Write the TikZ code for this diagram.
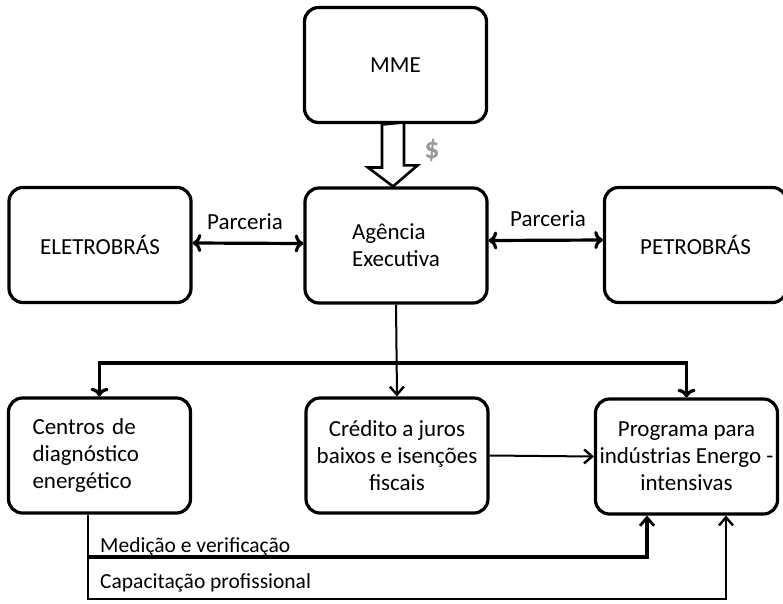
\documentclass[tikz,border=0pt]{standalone}
\usepackage{fontspec}
\setmainfont{Carlito}
\usepackage{tikz}
\usetikzlibrary{arrows.meta, positioning}
\tikzset{
  blk/.style={rectangle, rounded corners=14pt, draw=black, line width=3.2pt,
              minimum width=182pt, minimum height=115pt, inner sep=4pt,
              align=center},
  e/.style={line width=2pt, black,
            -{Straight Barb[length=8pt, width=14pt, line width=2.4pt]}},
  eb/.style={line width=3.2pt, black,
             -{Straight Barb[length=8pt, width=14pt, line width=2.8pt]}},
  hol/.style={line width=2.6pt, black, fill=white, line join=miter},
  lbl/.style={inner sep=0pt},
}
\begin{document}
\begin{tikzpicture}[x=1pt, y=-1pt, font=\fontsize{23}{27}\selectfont]
  \useasboundingbox (0,0) rectangle (783,603);
  \node[blk] (mme) at (395.5,65) {MME};
  \node[blk, align=left] (age) at (396,245.5) {Agência\\Executiva};
  \node[blk] (ele) at (100,245) {ELETROBRÁS};
  \node[blk] (pet) at (695.5,245) {PETROBRÁS};
  \node[blk, align=left, text width=134pt] (cen) at (99.5,455.5)
    {Centros de\\diagnóstico\\energético};
  \node[blk] (cre) at (397,455.5) {Crédito a juros\\baixos e isenções\\fiscais};
  \node[blk] (pro) at (686.5,456.5) {Programa para\\indústrias Energo -\\intensivas};
  % repasse de recursos
  \coordinate (dn) at (393,124.5);
  \coordinate (ht) at (age.north -| dn);
  \draw[hol] (dn) ++(-11,0) -- ++(0,43) -- ++(-14,0) -- (ht)
    -- ++(24.5,-21) -- ++(-13.5,0) -- ++(0,-43) -- cycle;
  \node[font=\bfseries\fontsize{30}{32}\selectfont, text=black!40] (dol) at (432,150) {\$};
  % parcerias
  \draw[eb, <->] ([yshift=2pt]ele.east) -- ([yshift=2pt]age.west);
  \draw[eb, <->] ([yshift=5pt]age.east) -- ([yshift=5pt]pet.west);
  \node[lbl, anchor=base] (pa1) at (245,229) {Parceria};
  \node[lbl, anchor=base] (pa2) at (548,226) {Parceria};
  % programas
  \coordinate (br) at (396,363);
  \draw[e] (age.south) -- (cre.north);
  \draw[eb, <->] (cen.north) |- (br) -| (pro.north);
  \draw[e] (cre.east) -- (pro.west);
  % retorno dos centros
  \coordinate (m0) at (88,557);
  \coordinate (m1) at (647,557);
  \coordinate (k0) at (88,599);
  \coordinate (k1) at (726,599);
  \draw[e] (k0 |- cen.south) -- (k0) -- (k1) -- (k1 |- pro.south);
  \draw[eb] (m0) -- (m1) -- (m1 |- pro.south);
  \node[lbl, anchor=base west, font=\fontsize{21.5}{24}\selectfont] (med) at (100,552)
    {Medição e verificação};
  \node[lbl, anchor=base west, font=\fontsize{21.5}{24}\selectfont] (cap) at (100,588)
    {Capacitação profissional};
\end{tikzpicture}
\end{document}
